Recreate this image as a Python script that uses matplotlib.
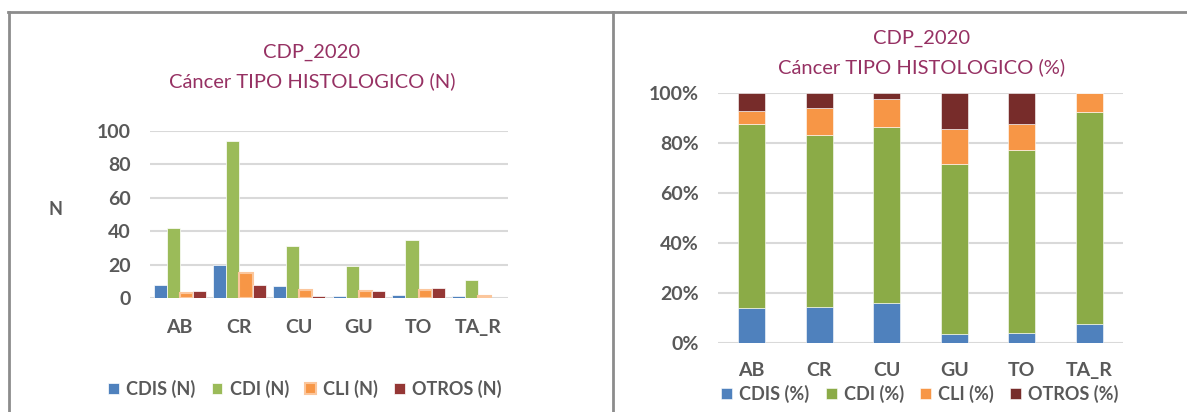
import numpy as np
import matplotlib
matplotlib.use("Agg")
import matplotlib.pyplot as plt
from matplotlib.lines import Line2D
from matplotlib.ticker import PercentFormatter

plt.rcParams['font.family'] = ['Lato', 'DejaVu Sans']

# data
categories = ["AB", "CR", "CU", "GU", "TO", "TA_R"]
cdis = [8, 20, 7, 1, 2, 1]
cdi = [42, 94, 31, 19, 35, 11]
cli = [3, 15, 5, 4, 5, 1]
otros = [4, 8, 1, 4, 6, 0]

series_n = ["CDIS (N)", "CDI (N)", "CLI (N)", "OTROS (N)"]
series_pct = ["CDIS (%)", "CDI (%)", "CLI (%)", "OTROS (%)"]

colors_n = ["#4F81BD", "#9BBB59", "#F79646", "#953735"]
colors_pct = ["#4F81BD", "#8BAB47", "#F79646", "#772C2A"]

title_col = "#963163"
tick_col = "#595959"
grid_col = "#D9D9D9"

counts = np.array([cdis, cdi, cli, otros], dtype=float)
pct = counts / counts.sum(axis=0) * 100

fig = plt.figure(figsize=(11.87, 4.12), dpi=100)

# frame lines
fig.add_artist(Line2D([8 / 1187, 1], [1 - 12 / 412] * 2, color="#8C8C8C", lw=2))
fig.add_artist(Line2D([9 / 1187] * 2, [0, 1 - 12 / 412], color="#8C8C8C", lw=2))
fig.add_artist(Line2D([613 / 1187] * 2, [0, 1 - 12 / 412], color="#8C8C8C", lw=2))

tick_size = 14
leg_size = 13
title_size = 14.5

# ---------- left: counts ----------
ax1 = fig.add_axes([150 / 1187, 1 - 298 / 412, 358 / 1187, 167 / 412])
x = np.arange(len(categories))
w = 0.218
for i in range(4):
    ec = "#FBC69C" if i == 2 else "white"
    lw = 1.5 if i == 2 else 0.5
    ax1.bar(x + (i - 1.5) * w, counts[i], w, color=colors_n[i], edgecolor=ec,
            linewidth=lw, label=series_n[i], zorder=3)
ax1.set_xlim(-0.5, len(categories) - 0.5)
ax1.set_ylim(0, 100)
ax1.set_yticks([0, 20, 40, 60, 80, 100])
ax1.set_xticks(x)
ax1.set_xticklabels(categories)
ax1.grid(axis="y", color=grid_col, lw=1.5, zorder=0)
for s in ax1.spines.values():
    s.set_visible(False)
ax1.tick_params(length=0, colors=tick_col, labelsize=tick_size)
ax1.tick_params(axis="x", pad=15)
ax1.tick_params(axis="y", pad=14)
for t in ax1.get_xticklabels() + ax1.get_yticklabels():
    t.set_fontweight("bold")
ax1.set_ylabel("N", rotation=0, fontsize=13, fontweight="bold", color=tick_col)
ax1.yaxis.set_label_coords(-0.265, 0.48)
fig.text(312 / 1187, 1 - 52 / 412, "CDP_2020", ha="center", va="center",
         fontsize=title_size, color=title_col)
fig.text(312 / 1187, 1 - 81 / 412, "Cáncer TIPO HISTOLOGICO (N)", ha="center",
         va="center", fontsize=title_size, color=title_col)
ax1.legend(loc="center", bbox_to_anchor=(305 / 1187, 1 - 389 / 412),
           bbox_transform=fig.transFigure, ncol=4, frameon=False,
           handlelength=0.6, handleheight=0.6, handletextpad=0.4,
           columnspacing=0.9, prop={"weight": "bold", "size": leg_size},
           labelcolor=tick_col)

# ---------- right: percentages ----------
ax2 = fig.add_axes([718 / 1187, 1 - 343 / 412, 405 / 1187, 250 / 412])
bottom = np.zeros(len(categories))
for i in range(4):
    ax2.bar(x, pct[i], 0.4, bottom=bottom, color=colors_pct[i],
            edgecolor="white", linewidth=0.4, label=series_pct[i], zorder=3)
    bottom += pct[i]
ax2.set_xlim(-0.5, len(categories) - 0.5)
ax2.set_ylim(0, 100)
ax2.set_yticks([0, 20, 40, 60, 80, 100])
ax2.yaxis.set_major_formatter(PercentFormatter(decimals=0))
ax2.set_xticks(x)
ax2.set_xticklabels(categories)
ax2.grid(axis="y", color=grid_col, lw=1.5, zorder=0)
for s in ax2.spines.values():
    s.set_visible(False)
ax2.tick_params(length=0, colors=tick_col, labelsize=tick_size)
ax2.tick_params(axis="x", pad=14)
ax2.tick_params(axis="y", pad=14)
for t in ax2.get_xticklabels() + ax2.get_yticklabels():
    t.set_fontweight("bold")
fig.text(922 / 1187, 1 - 38 / 412, "CDP_2020", ha="center", va="center",
         fontsize=title_size, color=title_col)
fig.text(922 / 1187, 1 - 67 / 412, "Cáncer TIPO HISTOLOGICO (%)", ha="center",
         va="center", fontsize=title_size, color=title_col)
ax2.legend(loc="center", bbox_to_anchor=(920 / 1187, 1 - 394 / 412),
           bbox_transform=fig.transFigure, ncol=4, frameon=False,
           handlelength=0.6, handleheight=0.6, handletextpad=0.4,
           columnspacing=0.9, prop={"weight": "bold", "size": leg_size},
           labelcolor=tick_col)

fig.savefig("out.png", dpi=100)
